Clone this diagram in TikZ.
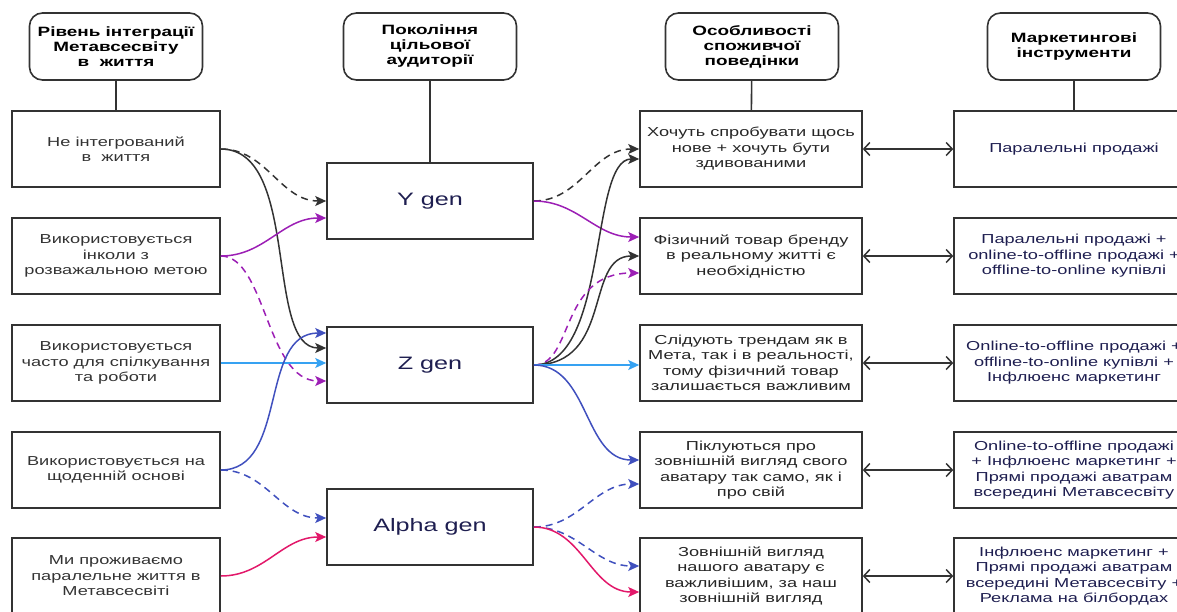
\documentclass[tikz,border=0pt]{standalone}
\usepackage{fontspec}
\setmainfont{Liberation Sans}[FakeStretch=1.4]
\usetikzlibrary{arrows.meta}
\definecolor{cdark}{HTML}{333333}
\definecolor{cpurple}{HTML}{9C1FB5}
\definecolor{cblue}{HTML}{36A2F2}
\definecolor{cindigo}{HTML}{4050BE}
\definecolor{ccrimson}{HTML}{E2186A}
\definecolor{cnavy}{HTML}{1E1E50}
\begin{document}
\begin{tikzpicture}[x=1pt,y=-1pt,
  hdr/.style={draw=cdark, line width=1.6pt, rounded corners=13pt, minimum width=173pt, minimum height=67pt, align=center, inner sep=0pt, font=\fontsize{13.5}{15}\selectfont\bfseries, text=black},
  box/.style={draw=cdark, line width=1.6pt, align=center, inner sep=0pt, font=\fontsize{13}{15.5}\selectfont, text=cdark},
  lbox/.style={box, minimum width=208pt, minimum height=76pt},
  gbox/.style={box, minimum width=206pt, minimum height=76pt, font=\fontsize{18}{20}\selectfont, text=cnavy},
  cbox/.style={box, minimum width=222pt, minimum height=76pt, text=black!85},
  mbox/.style={box, minimum width=240pt, minimum height=76pt, text=cnavy},
  conn/.style={line width=1.5pt, -{Stealth[length=11pt,width=10pt,inset=2.5pt]}},
  dsh/.style={dash pattern=on 7pt off 5pt},
  link/.style={draw=cdark, line width=1.6pt},
  dbl/.style={draw=cdark, line width=1.5pt, {Straight Barb[length=6pt,width=13pt]}-{Straight Barb[length=6pt,width=13pt]}}
]
\useasboundingbox (0,0) rectangle (1177,611);
\clip (0,0) rectangle (1177,611);

% headers
\node[hdr] (h1) at (116,46.5) {Рівень інтеграції\\Метавсесвіту\\в\ \ життя};
\node[hdr] (h2) at (430,46.5) {Покоління\\цільової\\аудиторії};
\node[hdr] (h3) at (752,46.5) {Особливості\\споживчої\\поведінки};
\node[hdr] (h4) at (1074,46.5) {Маркетингові\\інструменти};

% left column
\node[lbox] (l1) at (116,149) {Не інтегрований\\в\ \ життя};
\node[lbox] (l2) at (116,256) {Використовується\\інколи з\\розважальною метою};
\node[lbox] (l3) at (116,363) {Використовується\\часто для спілкування\\та роботи};
\node[lbox] (l4) at (116,470) {Використовується на\\щоденній основі};
\node[lbox] (l5) at (116,576) {Ми проживаємо\\паралельне життя в\\Метавсесвіті};

% generations
\node[gbox] (gY) at (430,201) {Y gen};
\node[gbox] (gZ) at (430,365) {Z gen};
\node[gbox] (gA) at (430,527) {Alpha gen};

% behaviour
\node[cbox] (c1) at (751,149) {Хочуть спробувати щось\\нове + хочуть бути\\здивованими};
\node[cbox] (c2) at (751,256) {Фізичний товар бренду\\в реальному житті є\\необхідністю};
\node[cbox] (c3) at (751,363) {Слідують трендам як в\\Мета, так і в реальності,\\тому фізичний товар\\залишається важливим};
\node[cbox] (c4) at (751,470) {Піклуються про\\зовнішній вигляд свого\\аватару так само, як і\\про свій};
\node[cbox] (c5) at (751,576) {Зовнішній вигляд\\нашого аватару є\\важливішим, за наш\\зовнішній вигляд};

% marketing
\node[mbox] (m1) at (1074,149) {Паралельні продажі};
\node[mbox] (m2) at (1074,256) {Паралельні продажі +\\online-to-offline продажі +\\offline-to-online купівлі};
\node[mbox] (m3) at (1074,363) {Online-to-offline продажі +\\offline-to-online купівлі +\\Інфлюенс маркетинг};
\node[mbox] (m4) at (1074,470) {Online-to-offline продажі\\+ Інфлюенс маркетинг +\\Прямі продажі аватрам\\всередині Метавсесвіту};
\node[mbox] (m5) at (1074,576) {Інфлюенс маркетинг +\\Прямі продажі аватрам\\всередині Метавсесвіту +\\Реклама на білбордах};

% header links
\draw[link] (h1) -- (l1);
\draw[link] (h2) -- (gY);
\draw[link] (h3) -- (c1);
\draw[link] (h4) -- (m1);

% double arrows
\draw[dbl] (c1) -- (m1);
\draw[dbl] (c2) -- (m2);
\draw[dbl] (c3) -- (m3);
\draw[dbl] (c4) -- (m4);
\draw[dbl] (c5) -- (m5);

% left connectors
\draw[conn, cdark, dsh] (l1.east) to[out=0,in=180] (gY.west);
\draw[conn, cdark] (l1.east) .. controls +(80,0) and +(-62,0) .. ([yshift=17pt]gZ.west);
\draw[conn, cpurple] (l2.east) to[out=0,in=180] ([yshift=-17pt]gY.west);
\draw[conn, cpurple, dsh] (l2.east) .. controls +(45,0) and +(-60,0) .. ([yshift=-16pt]gZ.west);
\draw[conn, cblue] (l3.east) -- (l3.east -| gZ.west);
\draw[conn, cindigo] (l4.east) to[out=0,in=180] ([yshift=32pt]gZ.west);
\draw[conn, cindigo, dsh] (l4.east) to[out=0,in=180] ([yshift=9pt]gA.west);
\draw[conn, ccrimson] (l5.east) to[out=0,in=180] ([yshift=-10pt]gA.west);

% right connectors
\draw[conn, cdark, dsh] (gY.east) to[out=0,in=180] (c1.west);
\draw[conn, cpurple] (gY.east) to[out=0,in=180] ([yshift=19pt]c2.west);
\draw[conn, cdark] (gZ.east) .. controls +(75,0) and +(-50,0) .. ([yshift=-10pt]c1.west);
\draw[conn, cdark] (gZ.east) .. controls +(80,0) and +(-55,0) .. (c2.west);
\draw[conn, cpurple, dsh] (gZ.east) .. controls +(40,0) and +(-80,0) .. ([yshift=-17pt]c2.west);
\draw[conn, cblue] (gZ.east) -- (gZ.east -| c3.west);
\draw[conn, cindigo] (gZ.east) to[out=0,in=180] ([yshift=10pt]c4.west);
\draw[conn, cindigo, dsh] (gA.east) to[out=0,in=180] ([yshift=-14pt]c4.west);
\draw[conn, cindigo, dsh] (gA.east) to[out=0,in=180] ([yshift=10pt]c5.west);
\draw[conn, ccrimson] (gA.east) to[out=0,in=180] ([yshift=-16pt]c5.west);
\end{tikzpicture}
\end{document}
